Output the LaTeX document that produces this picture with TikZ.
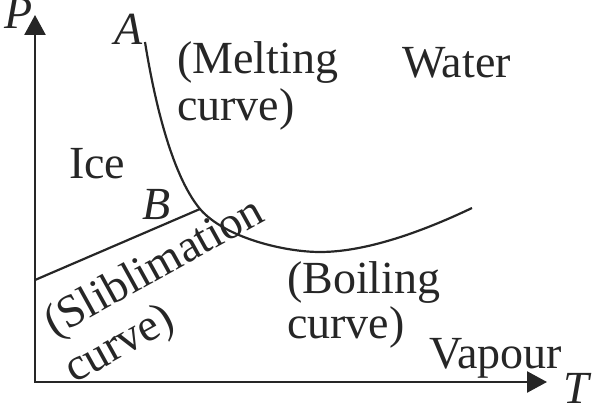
\documentclass[tikz,border=0pt]{standalone}
\usepackage{fontspec}
\setmainfont{Liberation Serif}
\usetikzlibrary{arrows.meta}
\begin{document}
\begin{tikzpicture}[x=1pt,y=-1pt,
  lbl/.style={font=\fontsize{46}{48}\selectfont, inner sep=0pt, anchor=base west, text=black!85},
  axis/.style={line width=2.6pt, color=black!85, {Triangle[length=20pt,width=21pt]}-{Triangle[length=20pt,width=21pt]}},
  crv/.style={line width=2.2pt, color=black!85}]
\useasboundingbox (0,0) rectangle (595,409);
\coordinate (O) at (35,382);
\coordinate (Ptip) at (35,15);
\coordinate (Ttip) at (547,382);
\draw[axis] (Ptip) -- (O) -- (Ttip);
\coordinate (A0) at (145,42);
\coordinate (J) at (200,209);
\coordinate (M) at (320,252);
\coordinate (E) at (472,208);
\coordinate (S0) at (35,280);
\draw[crv] (A0) .. controls (153,92) and (170,173) .. (J) .. controls (225,238) and (285,252) .. (M) .. controls (370,252) and (430,228) .. (E);
\draw[crv] (S0) -- (J);
\node[lbl] (P) at (4,29) {\itshape P};
\node[lbl] (T) at (563,403) {\itshape T};
\node[lbl] (A) at (114,45) {\itshape A};
\node[lbl] (B) at (142,220) {\itshape B};
\node[lbl] (melt1) at (177,74) {(Melting};
\node[lbl] (melt2) at (177,121) {curve)};
\node[lbl] (water) at (402,78) {Water};
\node[lbl] (ice) at (69,179) {Ice};
\node[lbl] (boil1) at (287,293) {(Boiling};
\node[lbl] (boil2) at (287,338) {curve)};
\node[lbl] (vap) at (429,368) {Vapour};
\node[lbl, rotate=29] (sub1) at (54,338) {(Sliblimation};
\node[lbl, rotate=29] (sub2) at (74,384) {curve)};
\end{tikzpicture}
\end{document}
